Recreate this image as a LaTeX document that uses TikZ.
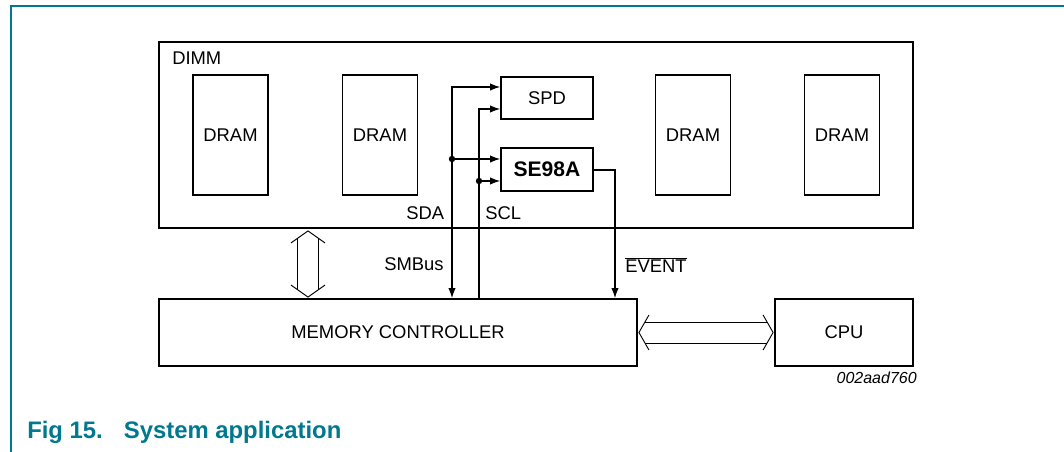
\documentclass[tikz,border=0pt]{standalone}
\usepackage{fontspec}
\setmainfont{Liberation Sans}
\usetikzlibrary{positioning,calc,arrows.meta}
\definecolor{figteal}{RGB}{0,120,142}

\tikzset{
  chip/.style={draw, line width=1.4pt, inner sep=0pt},
  lbl/.style={inner sep=0pt},
  wire/.style={line width=0.8pt},
  tip/.style={wire, -{Latex[length=7.5pt,width=5.5pt]}},
  bus/.style={line width=0.7pt}
}

\begin{document}
\begin{tikzpicture}[x=0.75pt, y=-0.75pt, font=\fontsize{13.8}{16}\selectfont]
    \useasboundingbox (0,0) rectangle (1064,452);
    % Page frame
    \draw[figteal, line width=1.1pt] (1064,6) -- (11,6) -- (11,452);
    % DIMM module
    \node[chip, minimum width=565.5pt, minimum height=139.5pt] (dimm) at (536,135) {};
    \node[lbl, anchor=base west] (dimmlbl) at (172,65) {DIMM};
    \foreach \x/\i in {230.5/1, 380/2, 693/3, 842/4}
        \node[chip, minimum width=56.25pt, minimum height=90pt] (dram\i) at (\x,135) {DRAM};
    \node[chip, minimum width=69pt, minimum height=31.5pt] (spd) at (547,98) {SPD};
    \node[chip, minimum width=69pt, minimum height=32.25pt, font=\fontsize{15.8}{18}\selectfont\bfseries] (se) at (547,169.5) {SE98A};
    % Controller and CPU
    \node[chip, minimum width=358.5pt, minimum height=50.25pt] (mc) at (398,332.5) {MEMORY CONTROLLER};
    \node[chip, minimum width=103.5pt, minimum height=50.25pt] (cpu) at (844,332.5) {CPU};
    % SMBus lines
    \coordinate (sda) at (452,87);
    \coordinate (scl) at (479,109);
    \coordinate (sdaj) at (452,159);
    \coordinate (sclj) at (479,181);
    \draw[wire, {Latex[length=7.5pt,width=5.5pt]}-{Latex[length=7.5pt,width=5.5pt]}] (sda |- mc.north) -- (sda) -- (sda -| spd.west);
    \draw[tip] (scl |- mc.north) -- (scl) -- (scl -| spd.west);
    \draw[tip] (sdaj) -- (sdaj -| se.west);
    \draw[tip] (sclj) -- (sclj -| se.west);
    \fill (sdaj) circle (2.4pt);
    \fill (sclj) circle (2.4pt);
    % Event output
    \coordinate (evt) at (615,170);
    \draw[tip] (se.east |- evt) -- (evt) -- (evt |- mc.north);
    \node[lbl, anchor=base west] (sdalbl) at (406,220) {SDA};
    \node[lbl, anchor=base west] (scllbl) at (485,220) {SCL};
    \node[lbl, anchor=base west] (smbuslbl) at (384,271) {SMBus};
    \node[lbl, anchor=base west] (evtlbl) at (625,273) {$\overline{\hbox{EVENT}}$};
    % Memory bus (DIMM <-> controller)
    \coordinate (busx) at (308,0);
    \coordinate (vup) at ($(dimm.south -| busx)+(0,2)$);
    \coordinate (vdn) at ($(mc.north -| busx)+(0,-1)$);
    \draw[bus] ($(vup)+(-17,12)$) -- (vup) -- ($(vup)+(17,12)$);
    \draw[bus] ($(vdn)+(-17,-12)$) -- (vdn) -- ($(vdn)+(17,-12)$);
    \draw[bus] ($(vup)+(-10.5,7.4)$) -- ($(vdn)+(-10.5,-7.4)$);
    \draw[bus] ($(vup)+(10.5,7.4)$) -- ($(vdn)+(10.5,-7.4)$);
    % Host bus (controller <-> CPU)
    \coordinate (hl) at ($(mc.east)+(1,0)$);
    \coordinate (hr) at ($(cpu.west)+(-1,0)$);
    \draw[bus] ($(hl)+(10,-17.5)$) -- (hl) -- ($(hl)+(10,17.5)$);
    \draw[bus] ($(hr)+(-10,-17.5)$) -- (hr) -- ($(hr)+(-10,17.5)$);
    \draw[bus] ($(hl)+(6,-10.5)$) -- ($(hr)+(-6,-10.5)$);
    \draw[bus] ($(hl)+(6,10.5)$) -- ($(hr)+(-6,10.5)$);
    % Drawing code and caption
    \node[lbl, anchor=base east, font=\fontsize{12}{14}\selectfont\itshape] (code) at (917,383) {002aad760};
    \node[lbl, anchor=base west, text=figteal, font=\fontsize{17.9}{20}\selectfont\bfseries] (caption) at (27,438) {Fig 15.\hspace{15.75pt}System application};
\end{tikzpicture}
\end{document}
